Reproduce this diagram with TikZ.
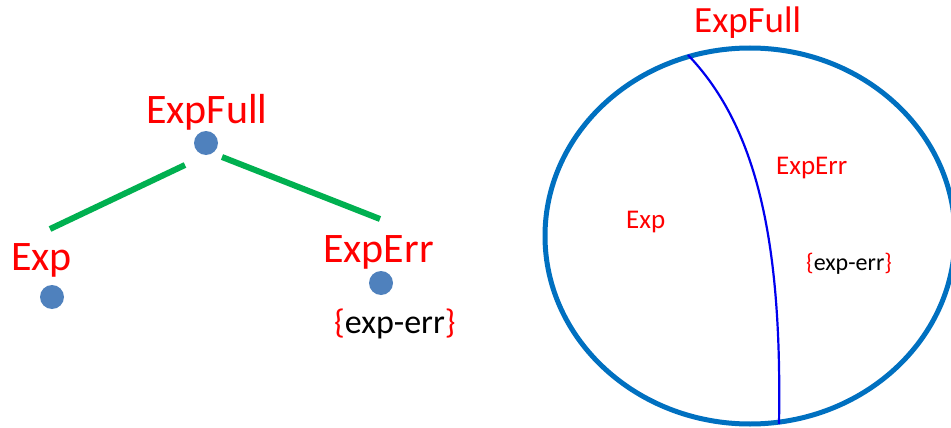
\documentclass[tikz,border=0pt]{standalone}
\usepackage{fontspec}
\setmainfont{Carlito}
\usetikzlibrary{shapes.geometric}
\definecolor{tred}{HTML}{FF0000}
\definecolor{dotblue}{HTML}{4F81BD}
\definecolor{lgreen}{HTML}{00B050}
\definecolor{ringblue}{HTML}{0070C0}
\definecolor{arcblue}{HTML}{0000EE}
\begin{document}
\begin{tikzpicture}[x=1pt,y=-1pt,
  lbl/.style={anchor=base west,inner sep=0pt,text=tred},
  dot/.style={circle,fill=dotblue,minimum size=24pt,inner sep=0pt},
  edge/.style={draw=lgreen,line width=6pt},
  ring/.style={ellipse,draw=ringblue,line width=5pt,minimum width=410pt,minimum height=376pt,inner sep=0pt},
  divide/.style={draw=arcblue,line width=2.2pt}]
\useasboundingbox (0,0) rectangle (951,428);
% left tree
\node[lbl,font=\fontsize{42}{42}\selectfont] (tfull) at (146,123) {ExpFull};
\node[dot] (dfull) at (206,143) {};
\node[lbl,font=\fontsize{42}{42}\selectfont] (texp) at (11,270) {Exp};
\node[dot] (dexp) at (52,297) {};
\node[lbl,font=\fontsize{42}{42}\selectfont] (terr) at (323,262) {ExpErr};
\node[dot] (derr) at (381,283) {};
\node[lbl,font=\fontsize{34}{34}\selectfont,text=black] (tset) at (334,333) {\textcolor{tred}{\{}exp-err\textcolor{tred}{\}}};
\coordinate (la) at (50,229);
\coordinate (lb) at (185,165);
\coordinate (ra) at (222,157);
\coordinate (rb) at (380,219);
\draw[edge] (la) -- (lb);
\draw[edge] (ra) -- (rb);
% right diagram
\node[ring] (ring) at (750,236) {};
\coordinate (atop) at (688,55);
\coordinate (abot) at (779,424);
\draw[divide] (atop) .. controls (760,130) and (782,250) .. (abot);
\node[lbl,font=\fontsize{37}{37}\selectfont] (rfull) at (694,33) {ExpFull};
\node[lbl,font=\fontsize{27}{27}\selectfont] (rerr) at (776,174) {ExpErr};
\node[lbl,font=\fontsize{27}{27}\selectfont] (rexp) at (626,228) {Exp};
\node[lbl,font=\fontsize{24}{24}\selectfont,text=black] (rset) at (806,270) {\textcolor{tred}{\{}exp-err\textcolor{tred}{\}}};
\end{tikzpicture}
\end{document}
